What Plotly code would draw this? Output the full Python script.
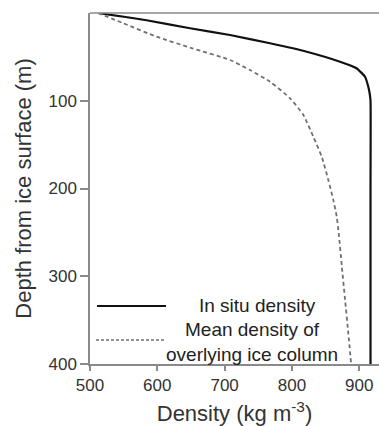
import plotly.graph_objects as go

# In situ density profile
insitu_depth = [0, 8, 17.4, 25.1, 34.5, 44.1, 55.5, 63, 72.6, 84, 91.5, 100, 200, 300, 400]
insitu_density = [512, 582, 648.6, 708, 767.5, 822, 871.5, 896, 908.6, 913.5, 915.5, 916.8, 916.8, 916.8, 916.8]

# Mean density of overlying ice column
mean_depth = [0, 11.7, 27, 40.2, 53.6, 65, 78.3, 97.2, 116.2, 141, 163.8, 190.3, 213.1, 232.1, 251, 289.1, 327.1, 365, 400]
mean_density = [512, 549.5, 599, 652, 708, 737.7, 767.5, 797.2, 817, 831.8, 844.3, 854.1, 861.5, 866.6, 869.5, 874.2, 879, 883.8, 888]

x_ticks = [500, 600, 700, 800, 900]
y_ticks = [100, 200, 300, 400]

legend_labels = ["In situ density", "Mean density of<br>overlying ice column"]

FONT = "Arial, Liberation Sans, sans-serif"

fig = go.Figure()
fig.add_trace(go.Scatter(x=insitu_density, y=insitu_depth, mode="lines",
                         line=dict(color="#111111", width=2.2, shape="spline", smoothing=0.4),
                         name=legend_labels[0], showlegend=False))
fig.add_trace(go.Scatter(x=mean_density, y=mean_depth, mode="lines",
                         line=dict(color="#707070", width=1.8, dash="4px,3px", shape="spline", smoothing=0.6),
                         name=legend_labels[1], showlegend=False))

# hand-drawn legend (paper coordinates)
def px2paper_x(px):
    return (px - 90) / 289.0

def px2paper_y(py):
    return (364 - py) / 351.0

fig.add_shape(type="line", xref="paper", yref="paper",
              x0=px2paper_x(97), x1=px2paper_x(166), y0=px2paper_y(306), y1=px2paper_y(306),
              line=dict(color="#111111", width=2.2))
fig.add_shape(type="line", xref="paper", yref="paper",
              x0=px2paper_x(96), x1=px2paper_x(166), y0=px2paper_y(340), y1=px2paper_y(340),
              line=dict(color="#707070", width=1.4, dash="3px,2px"))
fig.add_annotation(xref="paper", yref="paper", x=px2paper_x(257), y=px2paper_y(305),
                   text=legend_labels[0], showarrow=False, xanchor="center", yanchor="middle",
                   font=dict(family=FONT, size=19, color="#222222"))
fig.add_annotation(xref="paper", yref="paper", x=px2paper_x(252), y=px2paper_y(342),
                   text=legend_labels[1], showarrow=False, xanchor="center", yanchor="middle",
                   align="center", font=dict(family=FONT, size=19, color="#222222"))

fig.update_layout(
    width=379, height=426,
    margin=dict(l=90, r=0, t=13, b=62),
    plot_bgcolor="white", paper_bgcolor="white",
    font=dict(family=FONT, color="#333333"),
    showlegend=False,
)
fig.update_xaxes(range=[500, 929.4], tickvals=x_ticks, ticktext=[str(v) for v in x_ticks],
                 automargin=False,
                 showgrid=False, zeroline=False, showline=True, linecolor="#8a8a8a", linewidth=1.5,
                 mirror=False, ticks="outside", ticklen=5, tickcolor="#8a8a8a", tickwidth=1.5,
                 tickfont=dict(size=17, color="#333333"),
                 title=dict(text="Density (kg m<sup>-3</sup>)", font=dict(size=22, color="#333333"), standoff=19))
fig.update_yaxes(range=[400, 0], tickvals=y_ticks, ticktext=[str(v) for v in y_ticks],
                 automargin=False,
                 showgrid=False, zeroline=False, showline=True, linecolor="#8a8a8a", linewidth=1.5,
                 ticks="outside", ticklen=8, tickcolor="#8a8a8a", tickwidth=1.5,
                 tickfont=dict(size=17, color="#333333"),
                 title=dict(text="Depth from ice surface (m)", font=dict(size=22, color="#333333"), standoff=11))
# top border line
fig.add_shape(type="line", xref="paper", yref="paper", x0=0, x1=1, y0=1, y1=1,
              line=dict(color="#8a8a8a", width=1.5))

fig.write_html("out.html", config={"displayModeBar": False},
               post_script="document.body.style.margin='0';document.body.style.overflow='hidden';")
